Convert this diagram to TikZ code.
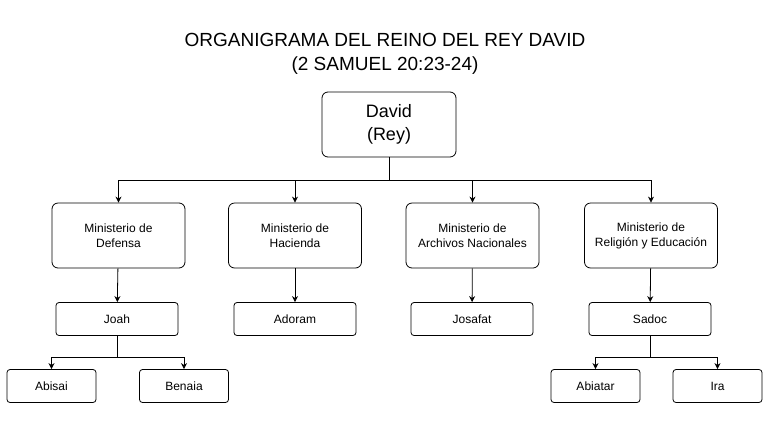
\documentclass[tikz,border=0pt]{standalone}
\usepackage{fontspec}
\setmainfont{Liberation Sans}
\usetikzlibrary{arrows.meta,positioning}

\begin{document}
\begin{tikzpicture}[
  x=1pt,y=-1pt,
  box/.style={draw,thick,rounded corners=6pt,align=center,inner sep=0,font=\fontsize{12}{15}\selectfont},
  ministry/.style={box,minimum width=133pt,minimum height=65pt},
  person/.style={box,rounded corners=3pt,minimum width=122pt,minimum height=33pt},
  leaf/.style={box,rounded corners=3pt,minimum width=89pt,minimum height=33pt},
  link/.style={thick,-{Stealth[length=6pt,width=6pt]}}
]
\useasboundingbox (0,0) rectangle (768,432);

\node (title) at (385,54) [align=center,font=\fontsize{19}{24}\selectfont]
  {ORGANIGRAMA DEL REINO DEL REY DAVID\\(2 SAMUEL 20:23-24)};

\node[box,minimum width=134pt,minimum height=65pt,font=\fontsize{18}{23}\selectfont] (king) at (389,124.5) {David\\(Rey)};

\node[ministry] (defense) at (118.5,235.5) {Ministerio de\\Defensa};
\node[ministry] (treasury) at (295,235.5) {Ministerio de\\Hacienda};
\node[ministry] (archives) at (472.5,235.5) {Ministerio de\\Archivos Nacionales};
\node[ministry] (religion) at (651,235.5) {Ministerio de\\Religión y Educación};

\node[person] (joah) at (117,319) {Joah};
\node[person] (adoram) at (295,319) {Adoram};
\node[person] (josafat) at (472,319) {Josafat};
\node[person] (sadoc) at (650,319) {Sadoc};

\node[leaf] (abisai) at (51.5,386) {Abisai};
\node[leaf] (benaia) at (184,386) {Benaia};
\node[leaf] (abiatar) at (595.5,386) {Abiatar};
\node[leaf] (ira) at (717.5,386) {Ira};

% top level
\coordinate (bus) at (389,180);
\draw[thick] (king.south) -- (bus);
\foreach \m in {defense,treasury,archives,religion}
  \draw[link] (bus) -| (\m.north);

% ministers
\draw[link] (defense) -- (joah);
\draw[link] (treasury) -- (adoram);
\draw[link] (archives) -- (josafat);
\draw[link] (religion) -- (sadoc);

% officers
\coordinate (joahbus) at (117,357);
\draw[thick] (joah.south) -- (joahbus);
\draw[link] (joahbus) -| (abisai.north);
\draw[link] (joahbus) -| (benaia.north);
\coordinate (sadocbus) at (650,357);
\draw[thick] (sadoc.south) -- (sadocbus);
\draw[link] (sadocbus) -| (abiatar.north);
\draw[link] (sadocbus) -| (ira.north);
\end{tikzpicture}
\end{document}
